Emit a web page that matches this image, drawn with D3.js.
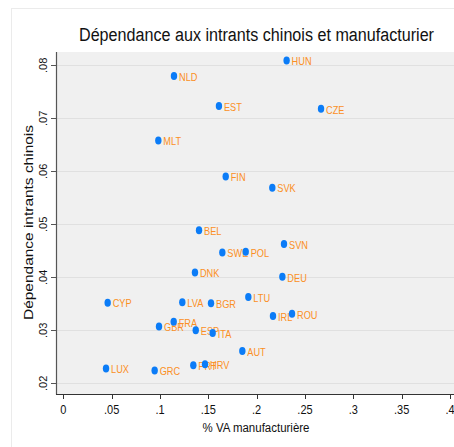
<!DOCTYPE html>
<html>
<head>
<meta charset="utf-8">
<script src="https://d3js.org/d3.v7.min.js"></script>
<style>
  body { margin: 0; background: #fff; }
  text { font-family: "Liberation Sans", Arial, sans-serif; }
</style>
</head>
<body>
<div id="chart"></div>
<script>
// EU28 countries: manufacturing VA share vs. dependence on Chinese inputs
const countries = ["LUX", "CYP", "GRC", "MLT", "GBR", "FRA", "NLD", "LVA", "PRT", "DNK", "ESP", "BEL", "HRV", "BGR", "ITA", "EST", "SWE", "FIN", "AUT", "POL", "LTU", "SVK", "IRL", "DEU", "SVN", "HUN", "ROU", "CZE"];
const vaShare = [0.0442, 0.0459, 0.0945, 0.0983, 0.0990, 0.1142, 0.1145, 0.1231, 0.1345, 0.1362, 0.1370, 0.1404, 0.1466, 0.1528, 0.1545, 0.1610, 0.1645, 0.1680, 0.1852, 0.1887, 0.1914, 0.2162, 0.2169, 0.2266, 0.2283, 0.2310, 0.2366, 0.2666];
const chinaDep = [0.0228, 0.0352, 0.0224, 0.0658, 0.0307, 0.0316, 0.0780, 0.0353, 0.0234, 0.0409, 0.0300, 0.0489, 0.0236, 0.0351, 0.0295, 0.0723, 0.0447, 0.0590, 0.0261, 0.0448, 0.0363, 0.0569, 0.0327, 0.0401, 0.0463, 0.0809, 0.0331, 0.0718];
const xTicks = [0, 0.05, 0.1, 0.15, 0.2, 0.25, 0.3, 0.35, 0.4];
const xTickLabels = ["0", ".05", ".1", ".15", ".2", ".25", ".3", ".35", ".4"];
const yTicks = [0.02, 0.03, 0.04, 0.05, 0.06, 0.07, 0.08];
const yTickLabels = [".02", ".03", ".04", ".05", ".06", ".07", ".08"];

const W = 454, H = 447;
const plot = { left: 56, right: 470, top: 52, bottom: 394 };

const svg = d3.select("#chart").append("svg")
  .attr("width", W).attr("height", H);

// graph region frame
svg.append("rect").attr("x", 11.5).attr("y", 8.5)
  .attr("width", W + 20).attr("height", H + 20)
  .attr("fill", "#fff").attr("stroke", "#ebebeb");

// plot region
svg.append("rect").attr("x", plot.left).attr("y", plot.top)
  .attr("width", plot.right - plot.left).attr("height", plot.bottom - plot.top)
  .attr("fill", "#f0f0f0");

const x = d3.scaleLinear().domain([0, 0.4]).range([63.3, 450]);
const y = d3.scaleLinear().domain([0.02, 0.08]).range([383.3, 65.3]);

// horizontal grid lines
svg.append("g").selectAll("line").data(yTicks).enter().append("line")
  .attr("x1", plot.left).attr("x2", plot.right)
  .attr("y1", d => Math.round(y(d)) + 0.5).attr("y2", d => Math.round(y(d)) + 0.5)
  .attr("stroke", "#e0e0e0").attr("stroke-width", 1);

// axes
svg.append("line").attr("x1", plot.left + 0.5).attr("x2", plot.left + 0.5)
  .attr("y1", plot.top).attr("y2", plot.bottom + 0.5)
  .attr("stroke", "#555").attr("stroke-width", 1.2);
svg.append("line").attr("x1", plot.left).attr("x2", plot.right)
  .attr("y1", plot.bottom + 0.5).attr("y2", plot.bottom + 0.5)
  .attr("stroke", "#333").attr("stroke-width", 1.2);

// x ticks
const xt = svg.append("g");
xTicks.forEach((t, i) => {
  const px = Math.round(x(t)) + 0.5;
  xt.append("line").attr("x1", px).attr("x2", px)
    .attr("y1", plot.bottom).attr("y2", plot.bottom + 5)
    .attr("stroke", "#333");
  xt.append("text").text(xTickLabels[i])
    .attr("text-anchor", "middle").attr("font-size", 12.5).attr("fill", "#111")
    .attr("transform", `translate(${x(t)},413.5) scale(0.88,1)`);
});

// y ticks
const yt = svg.append("g");
yTicks.forEach((t, i) => {
  const py = Math.round(y(t)) + 0.5;
  yt.append("line").attr("x1", plot.left - 5).attr("x2", plot.left)
    .attr("y1", py).attr("y2", py).attr("stroke", "#555");
  yt.append("text").text(yTickLabels[i])
    .attr("text-anchor", "middle").attr("font-size", 12.5).attr("fill", "#111")
    .attr("transform", `translate(47,${y(t)}) rotate(-90) scale(0.88,0.82)`);
});

// titles
svg.append("text").text("Dépendance aux intrants chinois et manufacturier")
  .attr("x", 256.5).attr("y", 41.3).attr("text-anchor", "middle")
  .attr("font-size", 18).attr("fill", "#111")
  .attr("textLength", 355).attr("lengthAdjust", "spacingAndGlyphs");
svg.append("text").text("% VA manufacturière")
  .attr("x", 256).attr("y", 431.5).attr("text-anchor", "middle")
  .attr("font-size", 12.5).attr("fill", "#111")
  .attr("textLength", 107).attr("lengthAdjust", "spacingAndGlyphs");
svg.append("text").text("Dépendance intrants chinois")
  .attr("text-anchor", "middle").attr("font-size", 12.5).attr("fill", "#111")
  .attr("transform", "translate(33.3,222.5) rotate(-90)")
  .attr("textLength", 195).attr("lengthAdjust", "spacingAndGlyphs");

// points with labels, drawn in order so later dots sit on earlier labels
const pts = countries.map((c, i) => ({ c, vx: vaShare[i], vy: chinaDep[i] }));
const g = svg.append("g").selectAll("g").data(pts).enter().append("g");
g.append("ellipse")
  .attr("cx", d => x(d.vx)).attr("cy", d => y(d.vy))
  .attr("rx", 3.2).attr("ry", 4)
  .attr("fill", "#0b7cf7");
g.append("text").text(d => d.c)
  .attr("font-size", 11.8).attr("fill", "#fb8f24").attr("dy", "0.36em")
  .attr("transform", d => `translate(${x(d.vx) + 5},${y(d.vy) + 0.5}) scale(0.78,1)`);
</script>
</body>
</html>
